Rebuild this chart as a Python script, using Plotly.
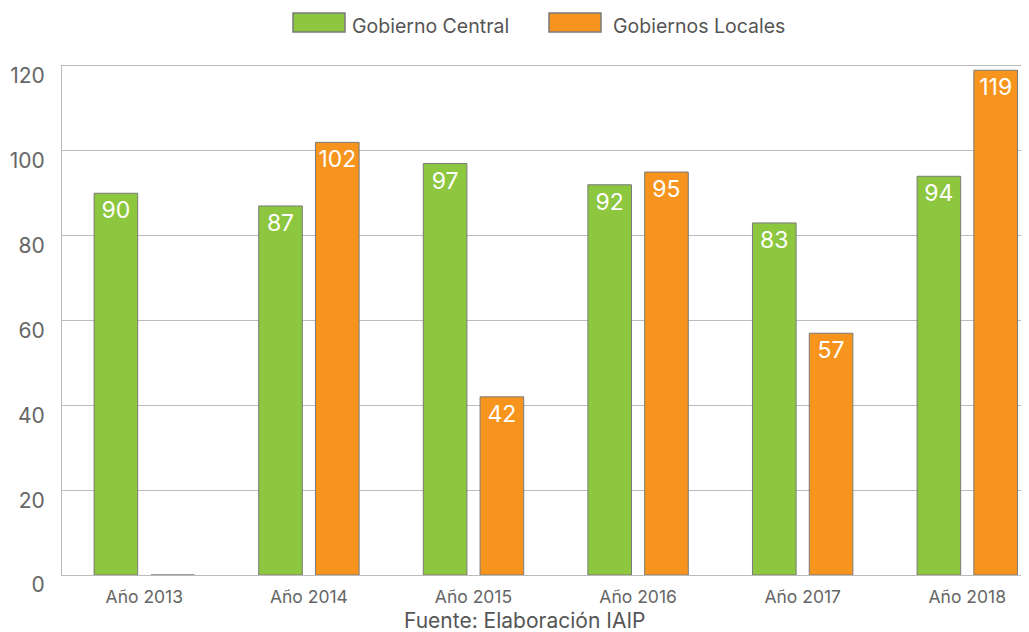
import plotly.graph_objects as go

categories = ["Año 2013", "Año 2014", "Año 2015", "Año 2016", "Año 2017", "Año 2018"]
central = [90, 87, 97, 92, 83, 94]
locales = [0, 102, 42, 95, 57, 119]
y_ticks = [0, 20, 40, 60, 80, 100, 120]
series_names = ["Gobierno Central", "Gobiernos Locales"]

GREEN = "#8DC63F"
ORANGE = "#F7941D"
EDGE = "#7a7a7a"
FONT = "Inter, Roboto, sans-serif"

x_idx = list(range(len(categories)))

fig = go.Figure()
for name, vals, color, off in [(series_names[0], central, GREEN, -0.305),
                               (series_names[1], locales, ORANGE, 0.04)]:
    fig.add_trace(go.Bar(
        name=name, x=x_idx, y=vals,
        width=0.265, offset=off,
        marker=dict(color=color, line=dict(color=EDGE, width=1)),
        text=[str(v) if v else "" for v in vals],
        textposition="inside", insidetextanchor="end", textangle=0,
        textfont=dict(color="white", size=23, family=FONT),
        showlegend=False,
    ))

# Plot area in the window: x 62..1029, y 66..575 (page has an 8px body margin)
def px(x):
    return (x - 62) / 967.0

def py(y):
    return (575 - y) / 509.0

shapes = []
annotations = []
for name, color, sx0, sx1, tx in [(series_names[0], GREEN, 293, 345, 350),
                                  (series_names[1], ORANGE, 549, 601, 611)]:
    shapes.append(dict(type="rect", xref="paper", yref="paper",
                       x0=px(sx0), x1=px(sx1), y0=py(32), y1=py(13),
                       fillcolor=color, line=dict(color=EDGE, width=1.5)))
    annotations.append(dict(text=name, xref="paper", yref="paper",
                            x=px(tx), y=py(26), xanchor="left", yanchor="middle",
                            showarrow=False,
                            font=dict(size=19.5, color="#555555", family=FONT)))

annotations.append(dict(
    text="Fuente: Elaboración IAIP", xref="paper", yref="paper",
    x=px(524), y=py(620), xanchor="center", yanchor="middle", showarrow=False,
    font=dict(size=21, color="#555555", family=FONT),
))

fig.update_layout(
    width=1021, height=624,
    margin=dict(l=54, r=0, t=58, b=57),
    paper_bgcolor="white", plot_bgcolor="white",
    font=dict(family=FONT, color="#666666"),
    barmode="overlay",
    showlegend=False,
    xaxis=dict(
        tickmode="array", tickvals=x_idx, ticktext=categories,
        range=[-0.5, 5.375], showgrid=False, showline=True, linecolor="#bbbbbb",
        linewidth=1, mirror=True, ticks="", tickfont=dict(size=17.5, color="#666666"),
        ticklabelstandoff=6, zeroline=False,
    ),
    yaxis=dict(
        range=[0, 120], tickvals=y_ticks, showgrid=True, gridcolor="#bbbbbb",
        gridwidth=1, showline=True, linecolor="#bbbbbb", linewidth=1, mirror=True,
        ticks="outside", ticklen=12, tickcolor="rgba(0,0,0,0)",
        ticklabelshift=10,
        tickfont=dict(size=21, color="#666666"), zeroline=False,
    ),
    shapes=shapes,
    annotations=annotations,
)

fig.write_html("out.html")
